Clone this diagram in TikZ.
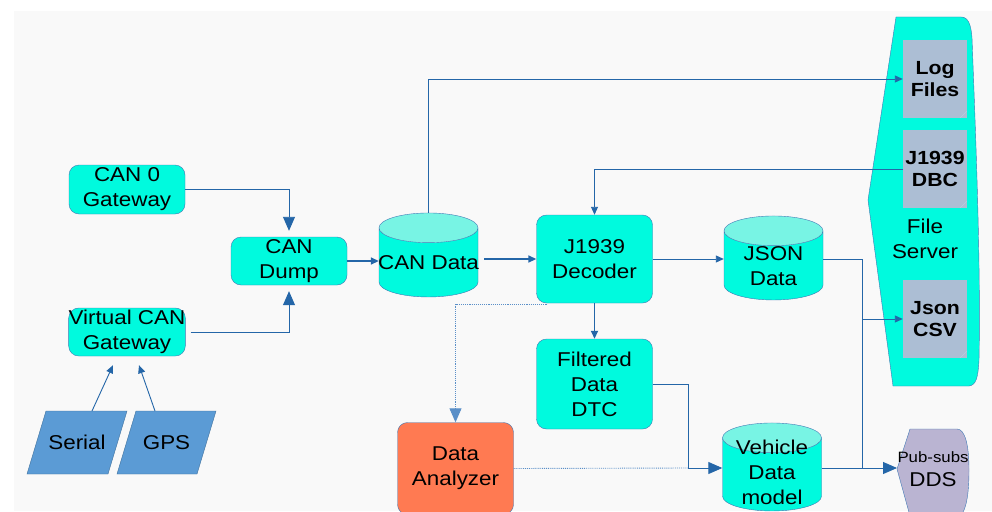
\documentclass[tikz,border=0pt]{standalone}
\usepackage{fontspec}
\setmainfont{Liberation Sans}[FakeStretch=1.12]
\usetikzlibrary{shapes.geometric,arrows.meta}

\definecolor{aquafill}{RGB}{0,250,222}
\definecolor{aquatop}{RGB}{120,244,228}
\definecolor{edgeblue}{RGB}{65,120,180}
\definecolor{linkblue}{RGB}{36,102,168}
\definecolor{dotblue}{RGB}{90,143,200}
\definecolor{coral}{RGB}{255,122,82}
\definecolor{slate}{RGB}{91,155,213}
\definecolor{slateedge}{RGB}{65,113,156}
\definecolor{docgray}{RGB}{172,190,212}
\definecolor{lilac}{RGB}{186,180,210}
\definecolor{canvas}{RGB}{249,249,249}

\begin{document}
\begin{tikzpicture}[x=1pt, y=-1pt,
  box/.style={rectangle, rounded corners=10pt, draw=edgeblue, fill=aquafill,
    align=center, minimum width=116pt, inner sep=2pt,
    font=\fontsize{20}{25}\selectfont},
  db/.style={cylinder, shape border rotate=90, aspect=0.3, draw=edgeblue,
    cylinder uses custom fill, cylinder body fill=aquafill,
    cylinder end fill=aquatop, minimum width=99pt, inner xsep=0pt},
  dbtext/.style={align=center, font=\fontsize{20}{25}\selectfont,
    inner xsep=0pt},
  docfile/.style={rectangle, fill=docgray, minimum width=64pt,
    minimum height=78pt, inner xsep=1pt, align=center,
    font=\bfseries\fontsize{19}{22}\selectfont,
    path picture={\fill[white!55!docgray]
      ([xshift=-7pt]path picture bounding box.south east) --
      ([yshift=7pt]path picture bounding box.south east) -- cycle;}},
  slantfill/.style={draw=slateedge, fill=slate},
  slanttext/.style={font=\fontsize{20}{25}\selectfont},
  link/.style={draw=linkblue, line width=0.9pt},
  heavy/.style={draw=linkblue, line width=1.6pt},
  dots/.style={draw=dotblue, line width=0.9pt, densely dotted},
  smallhead/.style={-{Triangle[length=8pt,width=7pt]}},
  bighead/.style={-{Triangle[length=14pt,width=12pt]}}]

  % 画布与背景
  \useasboundingbox (0,0) rectangle (992,511);
  \fill[canvas] (14,11) rectangle (992,511);

  % 文件服务器外形
  \draw[edgeblue, fill=aquafill] (896,17) -- (961,17)
    .. controls (968,17) and (971,24) .. (972,38)
    .. controls (975,120) and (981,260) .. (979,360)
    .. controls (978,378) and (976,385) .. (969,386)
    -- (893,386) -- (868,200) -- cycle;
  \node[font=\fontsize{20}{25}\selectfont, align=center] (fileserver)
    at (925,239) {File\\Server};
  \node[docfile] (logfiles) at (935,79) {Log\\Files};
  \node[docfile] (dbc) at (935,169) {J1939\\DBC};
  \node[docfile] (csv) at (935,319) {Json\\CSV};

  % 发布订阅
  \draw[edgeblue, fill=lilac] (910,429) -- (957,429)
    .. controls (965,429) and (969,445) .. (969,470)
    .. controls (969,495) and (966,511) .. (960,516)
    -- (910,516) -- (897,469) -- cycle;
  \node[align=center, font=\fontsize{20}{24}\selectfont, inner xsep=0pt] (dds)
    at (933,469) {{\fontsize{15}{18}\selectfont Pub-subs}\\DDS};
  \coordinate (ddstip) at (897,468);

  % 输入端
  \node[box, minimum height=49pt] (can0) at (127,189.5) {CAN 0\\Gateway};
  \node[box, minimum height=48pt, inner xsep=0pt] (vcan) at (127,332)
    {Virtual CAN\\Gateway};
  \node[box, minimum height=48pt] (candump) at (289,261) {CAN\\Dump};
  \draw[slantfill] (27,474) -- (46,411) -- (127,411) -- (108,474) -- cycle;
  \node[slanttext] (serial) at (77,442.5) {Serial};
  \coordinate (serialtop) at (92,411);
  \draw[slantfill] (117,474) -- (136,411) -- (216,411) -- (197,474) -- cycle;
  \node[slanttext] (gps) at (166.5,442.5) {GPS};
  \coordinate (gpstop) at (155,411);

  % 处理与存储
  \node[db, minimum height=84pt] (candata) at (428.5,262.5) {\hspace*{99pt}};
  \node[dbtext] (candatatext) at (428.5,263) {CAN Data};
  \node[box, minimum height=88pt] (decoder) at (594.5,259) {J1939\\Decoder};
  \node[box, minimum height=90pt] (filtered) at (594.5,384)
    {Filtered\\Data\\DTC};
  \node[box, fill=coral, minimum height=92pt] (analyzer) at (455.5,468.5)
    {Data\\Analyzer};
  \node[db, minimum height=84pt] (json) at (773.5,265.5) {\hspace*{99pt}};
  \node[dbtext] (jsontext) at (773.5,266) {JSON\\Data};
  \node[db, minimum height=88pt] (vehicle) at (772,474.5) {\hspace*{99pt}};
  \node[dbtext] (vehicletext) at (772,472) {Vehicle\\Data\\model};
  \coordinate (jn) at (862,319);
  \coordinate (fv) at (688,468);

  % 连线
  \draw[link, bighead] (can0.east) -| ([yshift=6pt]candump.north);
  \draw[link, bighead] ([xshift=5pt]vcan.east) -| ([yshift=-6pt]candump.south);
  \draw[link, smallhead] (serialtop)
    -- ([xshift=-14pt,yshift=-9pt]vcan.south);
  \draw[link, smallhead] (gpstop)
    -- ([xshift=12pt,yshift=-9pt]vcan.south);
  \draw[heavy, smallhead] (candump.east) -- (candump.east -| candata.west);
  \draw[heavy, smallhead] ([xshift=6pt]candata.east |- decoder.west)
    -- (decoder.west);
  \draw[link, smallhead] (candata.north) |- (logfiles.west);
  \draw[link, smallhead] (dbc.west) -| (decoder.north);
  \draw[heavy, smallhead] (decoder.south) -- (filtered.north);
  \draw[link, smallhead] (decoder.east) -- (decoder.east -| json.west);
  \draw[link, smallhead] (decoder.east -| json.east) -| (jn) -- (csv.west);
  \draw[link] (ddstip -| jn) -- (jn);
  \draw[link, bighead] (ddstip -| vehicle.east) -- (ddstip);
  \draw[link, bighead] (filtered.east) -| (fv) -- (fv -| vehicle.west);
  \draw[dots] (analyzer.east) -- (fv);
  \draw[dots, bighead] ([xshift=11pt,yshift=-1pt]decoder.south west)
    -| (analyzer.north);
\end{tikzpicture}
\end{document}
